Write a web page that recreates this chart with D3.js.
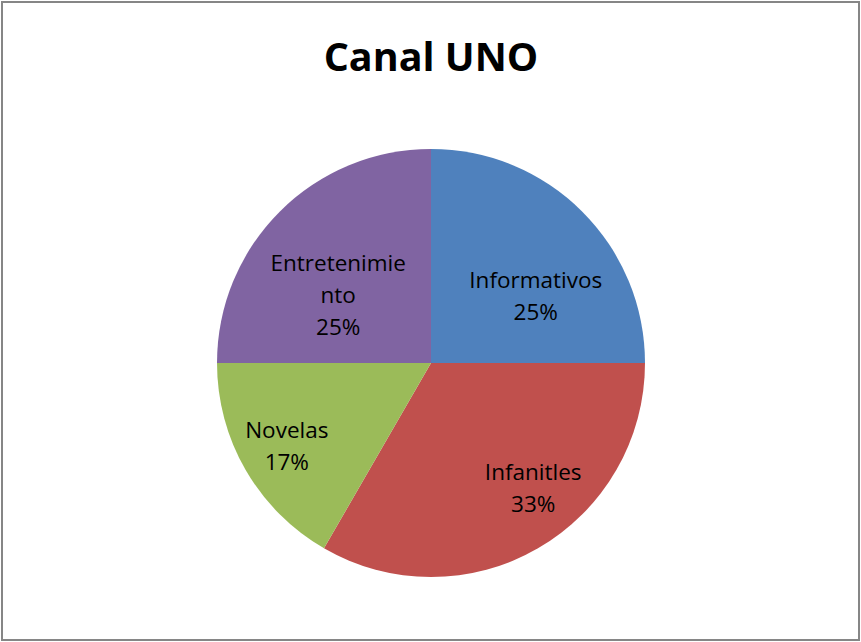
<!DOCTYPE html>
<html>
<head>
<meta charset="utf-8">
<script src="https://cdn.jsdelivr.net/npm/d3@7"></script>
<style>
  body { margin: 0; background: #fff; }
  text { font-family: "Open Sans", "Liberation Sans", sans-serif; }
</style>
</head>
<body>
<div id="chart"></div>
<script>
// data
var categories = ["Informativos", "Infanitles", "Novelas", "Entretenimiento"];
var values = [3, 4, 2, 3];
var labelLines = [["Informativos"], ["Infanitles"], ["Novelas"], ["Entretenimie", "nto"]];
var colors = ["#4F81BD", "#C0504D", "#9BBB59", "#8064A2"];

// label nudges from the arc centroid (layout only)
var nudges = [[14, 24], [38, 14], [-33, 19], [-2, 23]];

var width = 861, height = 642,
    cx = 431, cy = 363, radius = 214;

var svg = d3.select("#chart")
  .append("svg")
    .attr("width", width)
    .attr("height", height);

// chart border
svg.append("rect")
  .attr("x", 2).attr("y", 2)
  .attr("width", 857).attr("height", 638)
  .attr("fill", "#fff")
  .attr("stroke", "#868686")
  .attr("stroke-width", 2);

// title
svg.append("text")
  .attr("x", cx)
  .attr("y", 71)
  .attr("text-anchor", "middle")
  .attr("font-size", "39.5px")
  .attr("font-weight", "bold")
  .text("Canal UNO");

var total = d3.sum(values);
var pie = d3.pie().sort(null)(values);
var arc = d3.arc().innerRadius(0).outerRadius(radius);
var labelArc = d3.arc().innerRadius(radius * 0.6).outerRadius(radius * 0.6);

var g = svg.append("g")
  .attr("transform", "translate(" + cx + "," + cy + ")");

g.selectAll("path")
  .data(pie)
  .enter()
  .append("path")
    .attr("d", arc)
    .attr("fill", function(d, i) { return colors[i]; });

// labels
var lineH = 32;
g.selectAll(".lbl")
  .data(pie)
  .enter()
  .append("text")
    .attr("class", "lbl")
    .attr("text-anchor", "middle")
    .attr("font-size", "22.5px")
    .attr("fill", "#000")
    .each(function(d, i) {
      var c = labelArc.centroid(d);
      var x = c[0] + nudges[i][0], y = c[1] + nudges[i][1];
      var lines = labelLines[i].concat([Math.round(d.value / total * 100) + "%"]);
      var y0 = y - (lines.length - 1) * lineH / 2 + 8;
      var t = d3.select(this);
      lines.forEach(function(s, k) {
        t.append("tspan").attr("x", x).attr("y", y0 + k * lineH).text(s);
      });
    });
</script>
</body>
</html>
